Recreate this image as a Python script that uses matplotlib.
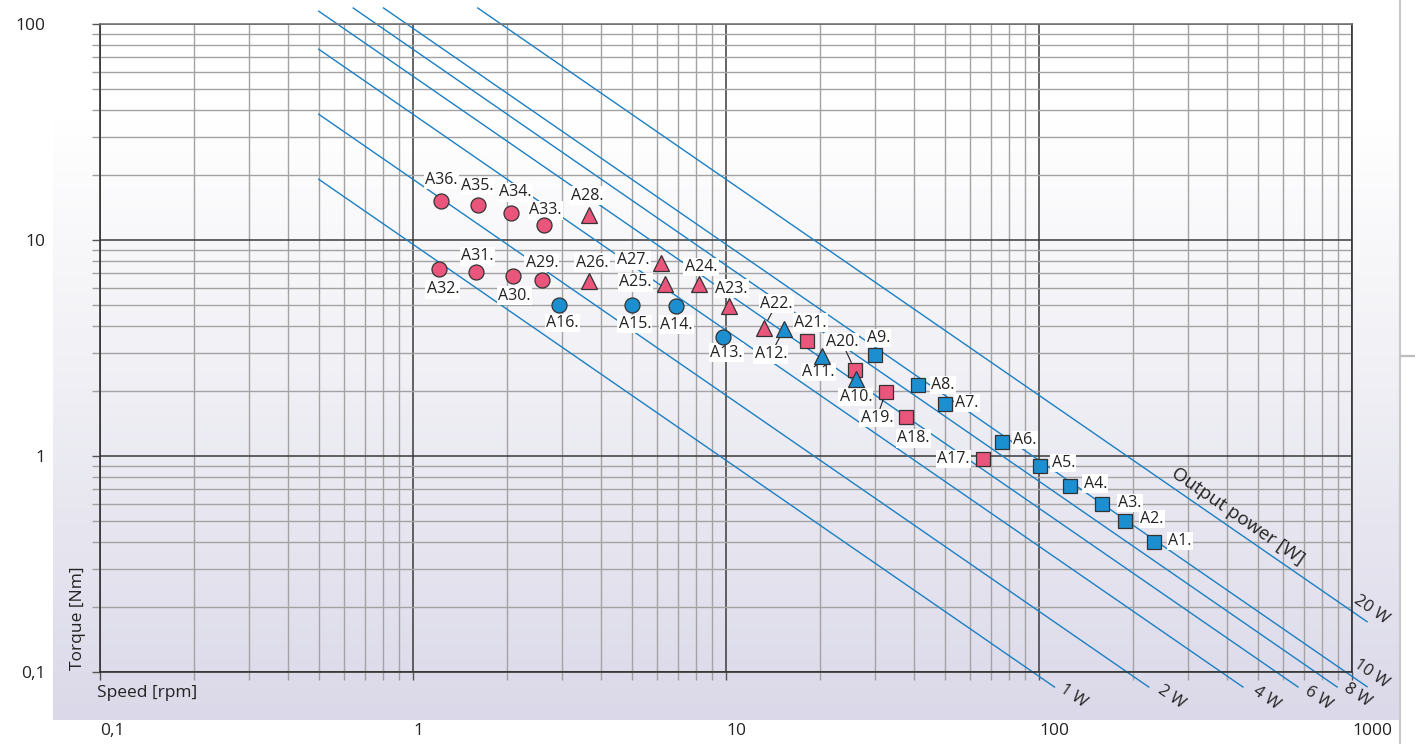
import numpy as np
import matplotlib
matplotlib.use('Agg')
import matplotlib.pyplot as plt
from matplotlib.ticker import FixedLocator, LogLocator, NullFormatter
from matplotlib.colors import LinearSegmentedColormap

plt.rcParams['font.family'] = ['Open Sans', 'DejaVu Sans']

# motor variants, speed [rpm] and torque [Nm]
sq_blue_names = ['A1.', 'A2.', 'A3.', 'A4.', 'A5.', 'A6.', 'A7.', 'A8.', 'A9.']
sq_blue_speed = [233, 188, 159, 126, 101, 76, 50, 41, 30]
sq_blue_torque = [0.40, 0.50, 0.60, 0.73, 0.90, 1.16, 1.74, 2.13, 2.93]

tri_blue_names = ['A10.', 'A11.', 'A12.']
tri_blue_speed = [26, 20.2, 15.3]
tri_blue_torque = [2.27, 2.91, 3.86]

circ_blue_names = ['A13.', 'A14.', 'A15.', 'A16.']
circ_blue_speed = [9.8, 6.9, 5.0, 2.93]
circ_blue_torque = [3.57, 4.97, 5.0, 5.0]

sq_pink_names = ['A17.', 'A18.', 'A19.', 'A20.', 'A21.']
sq_pink_speed = [66, 37.6, 32.4, 25.8, 18.2]
sq_pink_torque = [0.97, 1.51, 1.98, 2.50, 3.42]

tri_pink_names = ['A22.', 'A23.', 'A24.', 'A25.', 'A26.', 'A27.', 'A28.']
tri_pink_speed = [13.2, 10.2, 8.2, 6.4, 3.65, 6.2, 3.65]
tri_pink_torque = [3.93, 4.97, 6.26, 6.24, 6.48, 7.8, 13.1]

circ_pink_names = ['A29.', 'A30.', 'A31.', 'A32.', 'A33.', 'A34.', 'A35.', 'A36.']
circ_pink_speed = [2.58, 2.09, 1.59, 1.21, 2.63, 2.06, 1.61, 1.23]
circ_pink_torque = [6.53, 6.83, 7.09, 7.32, 11.7, 13.3, 14.5, 15.2]

power_w = [1, 2, 4, 6, 8, 10, 20]

x_ticks = [0.1, 1, 10, 100, 1000]
x_tick_labels = ['0,1', '1', '10', '100', '1000']
y_ticks = [0.1, 1, 10, 100]
y_tick_labels = ['0,1', '1', '10', '100']

BLUE = '#1b8fd0'
PINK = '#e9557b'
LINE = '#1a7fc4'
EDGE = '#333333'
TEXT = '#222222'

# label placement around each marker (pixels)
label_offset = {
    'A1.': (26, 1), 'A2.': (27, 2), 'A3.': (28, 1), 'A4.': (25, 2), 'A5.': (23, 3),
    'A6.': (23, 2), 'A7.': (22, 1), 'A8.': (25, 0), 'A9.': (3, 17),
    'A10.': (0, -18), 'A11.': (-3, -16), 'A12.': (-13, -25),
    'A13.': (3, -16), 'A14.': (1, -19), 'A15.': (3, -19), 'A16.': (3, -18),
    'A17.': (-29, 0), 'A18.': (7, -21), 'A19.': (-9, -26), 'A20.': (-13, 28), 'A21.': (3, 18),
    'A22.': (13, 24), 'A23.': (3, 17), 'A24.': (2, 17), 'A25.': (-30, 2),
    'A26.': (3, 18), 'A27.': (-28, 3), 'A28.': (-2, 19),
    'A29.': (0, 17), 'A30.': (1, -20), 'A31.': (1, 16), 'A32.': (4, -20),
    'A33.': (1, 15), 'A34.': (4, 21), 'A35.': (0, 19), 'A36.': (0, 21),
}
with_leader = {'A12.', 'A19.', 'A20.', 'A22.'}

W, H = 1415, 744
fig = plt.figure(figsize=(W / 100, H / 100), dpi=100, facecolor='white')

# shaded panel behind the chart
bg = fig.add_axes([0, 0, 1, 1], zorder=-10)
bg.set_xlim(0, W)
bg.set_ylim(H, 0)
bg.axis('off')
fade = LinearSegmentedColormap.from_list(
    'fade', [(0.0, '#ffffff'), (0.35, '#f3f3f7'), (1.0, '#dbd9e9')])
bg.imshow(np.linspace(0, 1, 256)[:, None], extent=[53, 1399, 720, 117],
          cmap=fade, aspect='auto', interpolation='bilinear')
bg.plot([1400, 1400], [0, H], color='#c9c9c9', lw=1.6)
bg.plot([1401, W], [356, 356], color='#bdbdbd', lw=1.6)

ax = fig.add_axes([100 / W, 1 - 672 / H, 1252 / W, 648 / H])
ax.set_facecolor('none')
ax.set_xscale('log')
ax.set_yscale('log')
ax.set_xlim(0.1, 1000)
ax.set_ylim(0.1, 100)

ax.xaxis.set_major_locator(FixedLocator(x_ticks))
ax.yaxis.set_major_locator(FixedLocator(y_ticks))
ax.xaxis.set_minor_locator(LogLocator(base=10, subs=np.arange(2, 10)))
ax.yaxis.set_minor_locator(LogLocator(base=10, subs=np.arange(2, 10)))
ax.xaxis.set_minor_formatter(NullFormatter())
ax.yaxis.set_minor_formatter(NullFormatter())
ax.set_xticklabels(x_tick_labels)
ax.set_yticklabels(y_tick_labels)
for lab in ax.get_xticklabels():
    lab.set_horizontalalignment('left')

ax.grid(which='minor', color='#a3a3a3', lw=1.0, zorder=0)
ax.grid(which='major', color='#3a3a3a', lw=1.1, zorder=0)
ax.set_axisbelow(True)
ax.tick_params(which='both', direction='out', length=6, width=1, color='#a0a0a0')
ax.tick_params(which='major', color='#555555', labelsize=12.5, labelcolor=TEXT)
ax.tick_params(axis='x', which='major', pad=31)
ax.tick_params(axis='y', which='major', pad=33)
for side in ['left', 'bottom', 'right']:
    ax.spines[side].set_color('#333333')
    ax.spines[side].set_linewidth(1.2)
ax.spines['top'].set_color('#777777')
ax.spines['top'].set_linewidth(1.2)

# constant output power lines, T = 60 P / (2 pi n)
p1 = ax.transData.transform((1, 1))
p2 = ax.transData.transform((10, 0.1))
angle = np.degrees(np.arctan2(p2[1] - p1[1], p2[0] - p1[0]))

k = 60 / (2 * np.pi)
t_top, t_bot, n_right = 118.6, 0.0852, 1117
end_offset = {1: (19, -9), 2: (23, -10), 4: (23, -11), 6: (20, -11),
              8: (20, -8), 10: (4, 13), 20: (4, 12)}
for p in power_w:
    n0 = max(0.5, k * p / t_top)
    n1 = min(n_right, k * p / t_bot)
    n = np.geomspace(n0, n1, 50)
    ax.plot(n, k * p / n, color=LINE, lw=1.0, clip_on=False, zorder=2)
    ax.annotate(f'{p} W', (n1, k * p / n1), xytext=end_offset[p],
                textcoords='offset pixels', rotation=angle, rotation_mode='anchor',
                ha='center', va='center', fontsize=12, color=TEXT,
                annotation_clip=False)

n_lab = 432.7
ax.annotate('Output power [W]', (n_lab, k * 20 / n_lab), xytext=(0, 17),
            textcoords='offset pixels', rotation=angle, rotation_mode='anchor',
            ha='center', va='center', fontsize=13.5, color=TEXT)

groups = [
    (sq_pink_names, sq_pink_speed, sq_pink_torque, 's', PINK, 10),
    (sq_blue_names, sq_blue_speed, sq_blue_torque, 's', BLUE, 10),
    (tri_pink_names, tri_pink_speed, tri_pink_torque, '^', PINK, 11.5),
    (tri_blue_names, tri_blue_speed, tri_blue_torque, '^', BLUE, 11.5),
    (circ_pink_names, circ_pink_speed, circ_pink_torque, 'o', PINK, 10.8),
    (circ_blue_names, circ_blue_speed, circ_blue_torque, 'o', BLUE, 10.8),
]
for names, speed, torque, mk, col, ms in groups:
    ax.plot(speed, torque, linestyle='none', marker=mk, ms=ms, mfc=col,
            mec=EDGE, mew=0.9, zorder=6, clip_on=False)
    for name, n, t in zip(names, speed, torque):
        arrow = None
        if name in with_leader:
            arrow = dict(arrowstyle='-', color=TEXT, lw=0.8, shrinkA=0, shrinkB=6)
        ax.annotate(name, (n, t), xytext=label_offset[name], textcoords='offset pixels',
                    ha='center', va='center', fontsize=11.5, color=TEXT,
                    bbox=dict(boxstyle='square,pad=0.08', fc='white', ec='none'),
                    arrowprops=arrow, zorder=5)

fig.text(78 / W, 1 - 670 / H, 'Torque [Nm]', rotation=90, ha='center', va='bottom',
         fontsize=12.5, color=TEXT)
fig.text(97 / W, 1 - 693 / H, 'Speed [rpm]', ha='left', va='center',
         fontsize=12.5, color=TEXT)

fig.savefig('out.png', dpi=100, facecolor='white')
